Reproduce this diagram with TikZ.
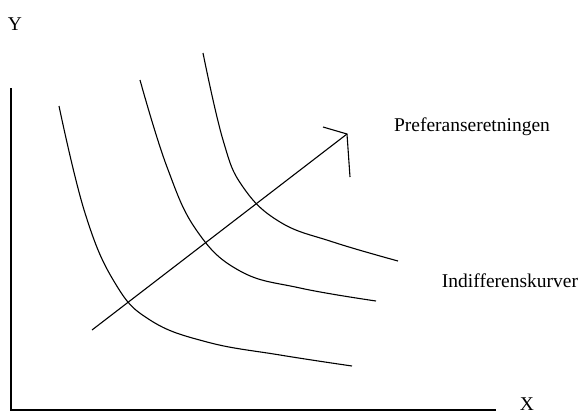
\documentclass[tikz,border=0pt]{standalone}
\usepackage{fontspec}
\setmainfont{Liberation Serif}
\usetikzlibrary{positioning}

\begin{document}
\begin{tikzpicture}[x=1pt, y=-1pt,
  axis/.style={line width=1.4pt},
  curve/.style={line width=1.1pt},
  lab/.style={font=\fontsize{19.5}{22}\selectfont, inner sep=0pt}]
  \useasboundingbox (0,0) rectangle (581,416);
  % axes
  \coordinate (o) at (11,410);
  \coordinate (ytop) at (11,88);
  \coordinate (xend) at (496,410);
  \draw[axis] (ytop) -- (o) -- (xend);
  \node[lab] (ylab) at (15,24) {Y};
  \node[lab] (xlab) at (527,404) {X};
  % indifference curves
  \draw[curve] plot[smooth, tension=0.7] coordinates {(59,106) (85,213) (115,283) (150,320) (207,342) (280,355) (352,366)};
  \draw[curve] plot[smooth, tension=0.7] coordinates {(140,80) (167,167) (197,231) (240,271) (300,288) (376,301)};
  \draw[curve] plot[smooth, tension=0.7] coordinates {(203,53) (223,140) (243,187) (280,222) (333,242) (398,261)};
  % preference direction
  \coordinate (pstart) at (92,330);
  \coordinate (pend) at (347,134);
  \coordinate (pleft) at (323,127);
  \coordinate (pdown) at (350,177);
  \draw[curve] (pstart) -- (pend);
  \draw[curve] (pleft) -- (pend) -- (pdown);
  \node[lab] (pref) at (472,127) {Preferanseretningen};
  \node[lab] (indiff) at (510,281) {Indifferenskurver};
\end{tikzpicture}
\end{document}
